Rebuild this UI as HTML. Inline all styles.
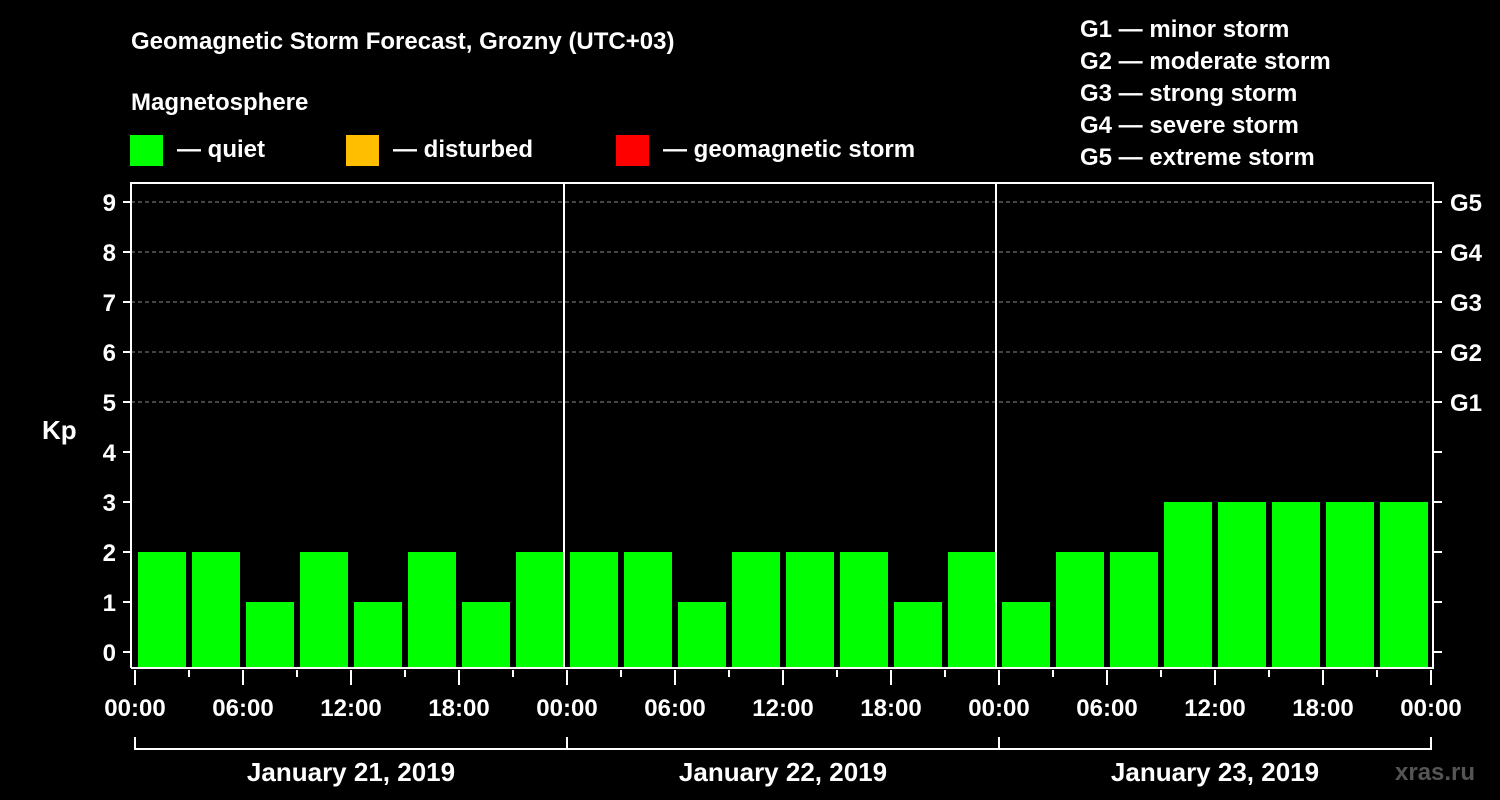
<!DOCTYPE html>
<html><head><meta charset="utf-8"><style>
html,body{margin:0;padding:0;background:#000;width:1500px;height:800px;overflow:hidden}
svg text{font-family:"Liberation Sans",Arial,sans-serif;font-weight:bold;fill:#fff}
</style></head><body>
<svg id="chart" width="1500" height="800" xmlns="http://www.w3.org/2000/svg">
<text x="131" y="49" font-size="24">Geomagnetic Storm Forecast, Grozny (UTC+03)</text>
<text x="131" y="110" font-size="24">Magnetosphere</text>
<g><rect x="130" y="135" width="33" height="31" fill="#00ff00"/><text x="177" y="157" font-size="24">— quiet</text></g>
<g><rect x="346" y="135" width="33" height="31" fill="#ffbf00"/><text x="393" y="157" font-size="24">— disturbed</text></g>
<g><rect x="616" y="135" width="33" height="31" fill="#ff0000"/><text x="663" y="157" font-size="24">— geomagnetic storm</text></g>
<g font-size="24">
<text x="1080" y="37">G1 — minor storm</text>
<text x="1080" y="69">G2 — moderate storm</text>
<text x="1080" y="101">G3 — strong storm</text>
<text x="1080" y="133">G4 — severe storm</text>
<text x="1080" y="165">G5 — extreme storm</text>
</g>
<text x="42" y="439" font-size="26">Kp</text>
<text x="1395" y="780" font-size="24" fill="#555" style="fill:#555">xras.ru</text>
<g id="grid"></g><g id="bars"></g><g id="axes"></g>
</svg>
<script>
const kpValues=[2,2,1,2,1,2,1,2, 2,2,1,2,2,2,1,2, 1,2,2,3,3,3,3,3];
const dayLabels=["January 21, 2019","January 22, 2019","January 23, 2019"];
const timeLabels=["00:00","06:00","12:00","18:00"];
const gLabels=["G1","G2","G3","G4","G5"];
const kpTicks=[0,1,2,3,4,5,6,7,8,9];
const NS="http://www.w3.org/2000/svg";
const x0=135,hourW=18,yZero=652,unit=50;
const xH=h=>x0+h*hourW; const yK=k=>yZero-k*unit;
function mk(tag,attrs,parent,txt){const e=document.createElementNS(NS,tag);for(const k in attrs)e.setAttribute(k,attrs[k]);if(txt!==undefined)e.textContent=txt;parent.appendChild(e);return e;}
const grid=document.getElementById('grid'),bars=document.getElementById('bars'),axes=document.getElementById('axes');
kpTicks.forEach(k=>{
 if(k>=5){const l=mk('line',{x1:131,x2:1433,y1:yK(k),y2:yK(k),stroke:'#888','stroke-dasharray':'4,3','stroke-width':1},grid);
 
 }
 const t=mk('line',{x1:123,x2:131,y1:yK(k),y2:yK(k),stroke:'#fff','stroke-width':2},axes);
 
 
 const lb=mk('text',{x:116,y:yK(k)+9,'font-size':24,'text-anchor':'end'},axes,String(k));
 
 
 const rt=mk('line',{x1:1433,x2:1442,y1:yK(k),y2:yK(k),stroke:'#fff','stroke-width':2},axes);
 
 
});
gLabels.forEach((g,i)=>{const t=mk('text',{x:1450,y:yK(5+i)+9,'font-size':24},axes,g);
 
 });
kpValues.forEach((v,i)=>{
 const c=v>=5?'#ff0000':(v>=4?'#ffbf00':'#00ff00');
 const r=mk('rect',{x:xH(i*3)+3,y:yK(v),width:48,height:668-yK(v),fill:c},bars);
 
 
});
// frame
const fr=mk('path',{d:'M131,668 V183 H1433 V668 H131',fill:'none',stroke:'#fff','stroke-width':2},axes);


for(let d=1;d<3;d++){const s=mk('line',{x1:xH(d*24)-3,x2:xH(d*24)-3,y1:183,y2:668,stroke:'#fff','stroke-width':2},axes);
 
 }
for(let h=0;h<=72;h+=3){const major=h%6===0;
 const t=mk('line',{x1:xH(h),x2:xH(h),y1:670,y2:major?685:677,stroke:'#fff','stroke-width':2},axes);
 
 
 if(major){const lb=mk('text',{x:xH(h),y:716,'font-size':24,'text-anchor':'middle'},axes,timeLabels[(h/6)%4]);
 
 }}
dayLabels.forEach((d,i)=>{
 const br=mk('path',{d:`M${xH(i*24)},737 V749 H${xH(i*24+24)} V737`,fill:'none',stroke:'#fff','stroke-width':2},axes);
 
 
 const t=mk('text',{x:xH(i*24+12),y:781,'font-size':26,'text-anchor':'middle'},axes,d);
 
 
});
</script>
</body></html>
